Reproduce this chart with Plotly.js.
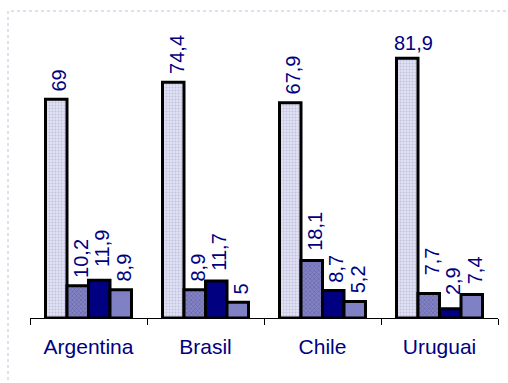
<!DOCTYPE html>
<html>
<head>
<meta charset="utf-8">
<script src="https://cdn.plot.ly/plotly-3.0.1.min.js"></script>
<style>html,body{margin:0;padding:0;background:#fff;}#chart{width:508px;height:383px;}</style>
</head>
<body>
<div id="chart"></div>
<script>
var categories = ["Argentina", "Brasil", "Chile", "Uruguai"];
var series1 = [69, 74.4, 67.9, 81.9];
var series2 = [10.2, 8.9, 18.1, 7.7];
var series3 = [11.9, 11.7, 8.7, 2.9];
var series4 = [8.9, 5, 5.2, 7.4];

function fmt(v) { return String(v).replace('.', ','); }

var FONT = 'Liberation Sans, Arial, sans-serif';
var styles = [
  {color: '#dcdcf0', pattern: {shape: '.', fgcolor: '#c0c0e0', bgcolor: '#e2e2f4', size: 3, solidity: 0.35}},
  {color: '#7474b8', pattern: {shape: 'x', fgcolor: '#6464ac', bgcolor: '#8484c4', size: 3, solidity: 0.4}},
  {color: '#000080'},
  {color: '#8080c4'}
];
// extra vertical label offsets (px) per series/category, as in the original layout
var labelExtraShift = [
  [0, 0, 0, 0],
  [0, 0, 2, 10],
  [5, 2, 0, 6],
  [0, 0, 0, 2]
];
var allSeries = [series1, series2, series3, series4];
var traces = allSeries.map(function (vals, i) {
  var marker = {color: styles[i].color, line: {color: '#000', width: 3}};
  if (styles[i].pattern) marker.pattern = styles[i].pattern;
  return {
    type: 'bar', x: categories, y: vals, marker: marker,
    hoverinfo: 'none', showlegend: false
  };
});

var plotW = 468;
var barW = plotW / categories.length * (1 - 0.265) / allSeries.length;
var annotations = [];
allSeries.forEach(function (vals, i) {
  vals.forEach(function (v, j) {
    var horizontal = (i === 0 && j === 3);
    annotations.push({
      x: categories[j], y: v, xref: 'x', yref: 'y',
      text: fmt(v), showarrow: false,
      textangle: horizontal ? 0 : -90,
      xanchor: 'center', yanchor: 'bottom',
      xshift: (i - 1.5) * barW + (horizontal ? 6 : 3),
      yshift: (horizontal ? 2 : 6) + labelExtraShift[i][j],
      font: {family: FONT, size: 20, color: '#000080'}
    });
  });
});

var layout = {
  width: 508, height: 383,
  margin: {l: 30, r: 10, t: 20, b: 65},
  paper_bgcolor: '#fff', plot_bgcolor: '#fff',
  barmode: 'group', bargap: 0.265, bargroupgap: 0,
  showlegend: false,
  xaxis: {
    showline: true, linecolor: '#000', linewidth: 1,
    ticks: 'outside', tickson: 'boundaries', ticklen: 6, tickcolor: '#000', tickwidth: 1,
    ticklabelstandoff: 10,
    showgrid: false, zeroline: false,
    tickfont: {family: FONT, size: 21, color: '#000080'}
  },
  yaxis: {range: [0, 94], visible: false, showgrid: false, zeroline: false, fixedrange: true},
  annotations: annotations,
  shapes: [{
    type: 'rect', xref: 'paper', yref: 'paper',
    x0: -22 / 468, x1: 1.1, y0: -0.3, y1: 307 / 298,
    line: {color: '#c0c0e0', width: 1, dash: 'dot'}, fillcolor: 'rgba(0,0,0,0)', layer: 'below'
  }]
};

Plotly.newPlot('chart', traces, layout, {displayModeBar: false, staticPlot: true});
</script>
</body>
</html>
